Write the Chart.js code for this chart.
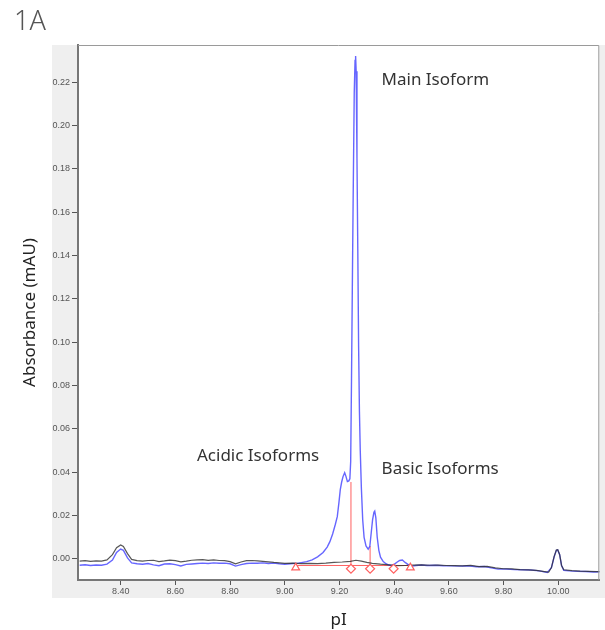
<!DOCTYPE html>
<html>
<head>
<meta charset="utf-8">
<script src="https://cdn.jsdelivr.net/npm/chart.js@4.4.0/dist/chart.umd.min.js"></script>
<style>
  body { margin: 0; background: #fff; }
  #wrap { position: relative; width: 605px; height: 630px; }
  #panel { position: absolute; left: 14px; top: 1px; font: 27px "Noto Sans", sans-serif; font-weight: 300; color: #555; }
  canvas { position: absolute; left: 0; top: 0; }
</style>
</head>
<body>
<div id="wrap">
  <canvas id="chart" width="605" height="630"></canvas>
  <div id="panel">1A</div>
</div>
<script>
// sample trace (blue)
const sampleX = [8.25, 8.27, 8.29, 8.31, 8.33, 8.35, 8.37, 8.385, 8.40, 8.41, 8.425, 8.44, 8.46, 8.48, 8.50,
  8.52, 8.54, 8.56, 8.58, 8.60, 8.62, 8.64, 8.66, 8.68, 8.70, 8.72, 8.74, 8.76, 8.78, 8.80, 8.82, 8.84,
  8.86, 8.88, 8.90, 8.92, 8.94, 8.96, 8.98, 9.00, 9.02, 9.05, 9.08, 9.10, 9.12, 9.14, 9.155, 9.165, 9.175,
  9.185, 9.192, 9.198, 9.203, 9.208, 9.213, 9.219, 9.224, 9.229, 9.234, 9.238, 9.241, 9.244, 9.247, 9.250,
  9.254, 9.257, 9.259, 9.261, 9.264, 9.267, 9.270, 9.273, 9.276, 9.280, 9.285, 9.290, 9.297, 9.305, 9.311,
  9.316, 9.321, 9.326, 9.329, 9.333, 9.338, 9.344, 9.350, 9.36, 9.37, 9.38, 9.39, 9.40, 9.41, 9.42, 9.43,
  9.44, 9.46, 9.48, 9.50, 9.52, 9.55, 9.58, 9.61, 9.64, 9.67, 9.70, 9.73, 9.76, 9.78, 9.81, 9.84, 9.87,
  9.90, 9.93, 9.96, 9.975, 9.985, 9.993, 9.998, 10.005, 10.012, 10.02, 10.04, 10.07, 10.10, 10.13, 10.16];
const sampleY = [-0.0029, -0.0027, -0.0030, -0.0028, -0.0029, -0.0024, -0.0005, 0.0030, 0.0046, 0.0040, 0.0005,
  -0.0018, -0.0022, -0.0024, -0.0021, -0.0027, -0.0031, -0.0023, -0.0022, -0.0026, -0.0032, -0.0025, -0.0023,
  -0.0021, -0.0019, -0.0021, -0.0018, -0.0020, -0.0019, -0.0022, -0.0033, -0.0026, -0.0021, -0.0019, -0.0020,
  -0.0018, -0.0021, -0.0019, -0.0022, -0.0024, -0.0022, -0.0019, -0.0012, -0.0004, 0.0010, 0.0030, 0.0055,
  0.0080, 0.0115, 0.0160, 0.0195, 0.0260, 0.0320, 0.0355, 0.0380, 0.0398, 0.0380, 0.0357, 0.0360, 0.0370,
  0.0450, 0.0826, 0.1250, 0.1660, 0.2150, 0.2300, 0.2320, 0.2250, 0.1850, 0.1425, 0.0980, 0.0680, 0.0500,
  0.0330, 0.0180, 0.0100, 0.0060, 0.0045, 0.0058, 0.0120, 0.0180, 0.0215, 0.0221, 0.0190, 0.0100, 0.0040,
  0.0008, -0.0012, -0.0022, -0.0028, -0.0030, -0.0025, -0.0015, -0.0007, -0.0005, -0.0016, -0.0034, -0.0030,
  -0.0028, -0.0030, -0.0029, -0.0031, -0.0032, -0.0033, -0.0031, -0.0036, -0.0035, -0.0042, -0.0047, -0.0046,
  -0.0049, -0.0050, -0.0051, -0.0055, -0.0062, -0.0040, 0.0010, 0.0040, 0.0042, 0.0020, -0.0030, -0.0052,
  -0.0055, -0.0057, -0.0058, -0.0060, -0.0059];

// blank trace (dark grey)
const blankX = [8.25, 8.27, 8.29, 8.31, 8.33, 8.35, 8.37, 8.385, 8.40, 8.41, 8.425, 8.44, 8.46, 8.48, 8.50,
  8.52, 8.54, 8.56, 8.58, 8.60, 8.62, 8.64, 8.66, 8.68, 8.70, 8.72, 8.74, 8.76, 8.78, 8.80, 8.82, 8.84,
  8.86, 8.88, 8.90, 8.92, 8.94, 8.96, 8.98, 9.00, 9.03, 9.06, 9.09, 9.12, 9.15, 9.18, 9.21, 9.24, 9.26,
  9.28, 9.30, 9.32, 9.35, 9.38, 9.41, 9.44, 9.47, 9.50, 9.53, 9.56, 9.59, 9.62, 9.65, 9.68, 9.71, 9.74,
  9.77, 9.80, 9.83, 9.86, 9.89, 9.92, 9.95, 9.965, 9.975, 9.985, 9.993, 9.998, 10.005, 10.012, 10.02,
  10.05, 10.08, 10.11, 10.14, 10.16];
const blankY = [-0.0010, -0.0008, -0.0011, -0.0009, -0.0010, -0.0004, 0.0020, 0.0052, 0.0065, 0.0058, 0.0025,
  -0.0002, -0.0008, -0.0010, -0.0007, -0.0006, -0.0012, -0.0009, -0.0005, -0.0008, -0.0013, -0.0010, -0.0006,
  -0.0004, -0.0003, -0.0006, -0.0004, -0.0007, -0.0008, -0.0012, -0.0022, -0.0014, -0.0008, -0.0007, -0.0009,
  -0.0011, -0.0013, -0.0016, -0.0018, -0.0020, -0.0019, -0.0021, -0.0020, -0.0021, -0.0019, -0.0016, -0.0014,
  -0.0011, -0.0006, -0.0010, -0.0016, -0.0020, -0.0024, -0.0027, -0.0031, -0.0030, -0.0028, -0.0027, -0.0029,
  -0.0028, -0.0030, -0.0031, -0.0032, -0.0030, -0.0035, -0.0034, -0.0041, -0.0045, -0.0046, -0.0049, -0.0050,
  -0.0053, -0.0058, -0.0061, -0.0040, 0.0012, 0.0041, 0.0043, 0.0021, -0.0030, -0.0050, -0.0054, -0.0056,
  -0.0057, -0.0058, -0.0058];

// integration baseline, peak splits and markers (red)
const baseX = [9.04, 9.46];
const baseY = [-0.0030, -0.0030];
const splitX = [9.242, 9.312];
const splitTop = [0.0355, 0.0060];
const markerX = [9.04, 9.242, 9.312, 9.398, 9.459];
const markerY = [-0.0040, -0.0045, -0.0045, -0.0045, -0.0040];
const markerStyle = ['triangle', 'rectRot', 'rectRot', 'rectRot', 'triangle'];

const xTicks = [8.40, 8.60, 8.80, 9.00, 9.20, 9.40, 9.60, 9.80, 10.00];
const yTicks = [0.00, 0.02, 0.04, 0.06, 0.08, 0.10, 0.12, 0.14, 0.16, 0.18, 0.20, 0.22];

const labels = [
  { text: 'Main Isoform', x: 9.354, y: 0.221 },
  { text: 'Acidic Isoforms', x: 8.679, y: 0.0475 },
  { text: 'Basic Isoforms', x: 9.354, y: 0.0415 }
];

const toPts = (xs, ys) => xs.map((x, i) => ({ x: x, y: ys[i] }));
const red = '#ff6060';
const labelFont = '"Noto Sans", sans-serif';

const splitSets = splitX.map((x, i) => ({
  data: [{ x: x, y: baseY[0] }, { x: x, y: splitTop[i] }],
  showLine: true, borderColor: red, borderWidth: 1, pointRadius: 0, order: 2
}));

const frame = {
  id: 'frame',
  beforeDraw(chart) {
    const { ctx, chartArea: a } = chart;
    ctx.save();
    ctx.fillStyle = '#fff';
    ctx.fillRect(0, 0, chart.width, chart.height);
    ctx.fillStyle = '#efefef';
    ctx.fillRect(52, a.top, chart.width - 52, 598 - a.top);
    ctx.fillStyle = '#fff';
    ctx.fillRect(a.left, a.top, a.right - a.left, a.bottom - a.top);
    ctx.restore();
  },
  afterDraw(chart) {
    const { ctx, chartArea: a } = chart;
    const xs = chart.scales.x, ys = chart.scales.y;
    ctx.save();
    ctx.strokeStyle = '#9a9a9a';
    ctx.lineWidth = 1;
    ctx.beginPath();
    ctx.moveTo(a.left, a.top + 0.5);
    ctx.lineTo(a.right - 0.5, a.top + 0.5);
    ctx.lineTo(a.right - 0.5, a.bottom);
    ctx.stroke();
    ctx.fillStyle = '#333';
    ctx.font = '17px ' + labelFont;
    ctx.textBaseline = 'middle';
    labels.forEach(l => ctx.fillText(l.text, xs.getPixelForValue(l.x), ys.getPixelForValue(l.y)));
    ctx.restore();
  }
};

new Chart(document.getElementById('chart'), {
  type: 'scatter',
  data: {
    datasets: [
      { data: toPts(blankX, blankY), showLine: true, borderColor: 'rgba(45,45,45,0.8)', borderWidth: 1.2, pointRadius: 0, order: 0 },
      { data: toPts(sampleX, sampleY), showLine: true, borderColor: 'rgba(75,75,255,0.85)', borderWidth: 1.4, pointRadius: 0, order: 1 },
      { data: toPts(baseX, baseY), showLine: true, borderColor: red, borderWidth: 1, pointRadius: 0, order: 2 },
      ...splitSets,
      { data: toPts(markerX, markerY), showLine: false, pointStyle: markerStyle, pointRadius: 4.5,
        pointBackgroundColor: '#fff', pointBorderColor: red, pointBorderWidth: 1.2, order: -1 }
    ]
  },
  options: {
    responsive: false,
    animation: false,
    devicePixelRatio: 1,
    layout: { padding: { top: 45, right: 2, left: 0, bottom: 0 } },
    plugins: { legend: { display: false }, tooltip: { enabled: false } },
    scales: {
      x: {
        type: 'linear', min: 8.244, max: 10.15,
        afterFit: s => { s.height = 50; },
        afterBuildTicks: s => { s.ticks = xTicks.map(v => ({ value: v })); },
        ticks: { callback: v => v.toFixed(2), color: '#555', font: { size: 9, family: 'Liberation Sans, Arial' }, padding: 1, maxRotation: 0 },
        grid: { drawOnChartArea: false, tickLength: 5, color: '#555' },
        border: { color: '#777', width: 2 },
        title: { display: true, text: 'pI', color: '#222', font: { size: 17, family: labelFont }, padding: { top: 0, bottom: 0 } }
      },
      y: {
        min: -0.0097, max: 0.2371,
        afterFit: s => { s.width = 78; },
        afterBuildTicks: s => { s.ticks = yTicks.map(v => ({ value: v })); },
        ticks: { callback: v => v.toFixed(2), color: '#555', font: { size: 9, family: 'Liberation Sans, Arial' }, padding: 2 },
        grid: { drawOnChartArea: false, tickLength: 6, color: '#555' },
        border: { color: '#777', width: 2 },
        title: { display: true, text: 'Absorbance (mAU)', color: '#222', font: { size: 17, family: labelFont }, padding: { top: 20, bottom: 0 } }
      }
    }
  },
  plugins: [frame]
});
</script>
</body>
</html>
